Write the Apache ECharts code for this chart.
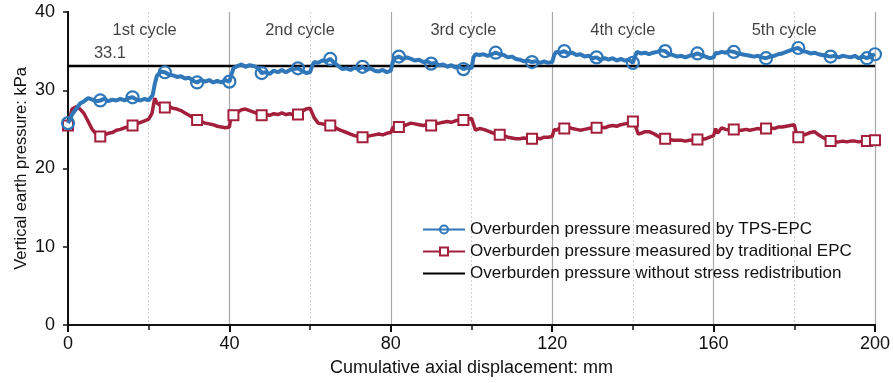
<!DOCTYPE html>
<html><head><meta charset="utf-8">
<script src="https://cdn.jsdelivr.net/npm/echarts@6/dist/echarts.min.js"></script>
<style>html,body{margin:0;padding:0;background:#fff}#c{width:893px;height:383px}</style>
</head><body><div id="c"></div>
<script>
// ---- data ----
const seriesNames = ['Overburden pressure measured by TPS-EPC','Overburden pressure measured by traditional EPC','Overburden pressure without stress redistribution'];
const xTickLabels = [0, 40, 80, 120, 160, 200];
const cycleLabels = ['1st cycle','2nd cycle','3rd cycle','4th cycle','5th cycle'];
const cycleLabelX = [19, 57.5, 98, 137.5, 177.5];
const baselineValue = 33.1;
const tpsX = [0,0.5,1,2,3,4,5,6,7,8,9,10,11,12,13,14,15,16,17,18,19,20,21,21.5,22,23,24,25,26,27,28,29,30,31,32,33,34,35,36,37,38,39,40,40.5,41,42,43,44,45,46,47,48,49,50,51,52,53,54,55,56,57,58,59,60,60.5,61,62,63,64,65,66,67,68,69,70,71,72,73,74,75,76,77,78,79,80,80.5,81,82,83,84,85,86,87,88,89,90,91,92,93,94,95,96,97,98,99,100,100.5,101,102,103,104,105,106,107,108,109,110,111,112,113,114,115,116,117,118,119,120,120.5,121,122,123,124,125,126,127,128,129,130,131,132,133,134,135,136,137,138,139,140,140.5,141,142,143,144,145,146,147,148,149,150,151,152,153,154,155,156,157,158,159,160,160.5,161,162,163,164,165,166,167,168,169,170,171,172,173,174,175,176,177,178,179,180,181,182,183,184,185,186,187,188,189,190,191,192,193,194,195,196,197,198,199,200];
const tpsY = [25.8,26.3,26.9,27.6,28.3,28.6,29.0,28.8,28.6,28.7,28.9,28.6,28.8,28.7,28.9,28.7,29.0,29.1,28.8,28.7,28.9,28.7,29.4,30.8,31.8,32.4,32.3,32.0,31.9,31.7,31.8,31.5,31.6,31.2,31.0,31.3,31.1,31.3,31.0,31.2,31.0,31.3,31.1,32.0,32.8,33.1,33.3,33.0,33.2,33.1,32.9,32.2,32.3,32.1,32.5,32.3,32.6,32.3,32.6,32.7,32.8,32.5,32.2,32.3,33.1,33.6,33.5,33.8,33.7,34.0,33.5,33.1,32.7,32.8,32.6,32.9,32.7,33.0,32.6,32.8,32.5,32.4,32.6,32.3,32.5,33.6,34.1,34.3,34.0,34.2,34.0,33.8,33.9,33.6,33.7,33.4,33.5,33.2,33.3,33.0,33.2,32.9,33.0,32.7,32.9,32.8,34.2,34.6,34.5,34.6,34.4,34.6,34.8,34.6,34.5,34.2,34.3,34.0,33.9,33.7,33.8,33.6,33.7,33.5,33.7,33.5,33.6,34.5,34.9,34.8,35.0,34.7,34.8,34.5,34.6,34.3,34.4,34.1,34.2,33.9,34.1,33.9,34.1,33.8,34.0,33.8,33.9,33.5,34.3,34.9,34.7,34.8,34.6,34.8,34.9,35.1,35.0,34.6,34.5,34.3,34.4,34.2,34.4,34.5,34.7,34.5,34.3,34.1,34.2,34.8,34.7,34.9,34.8,35.0,34.9,34.7,34.6,34.5,34.4,34.3,34.4,34.2,34.1,34.3,34.4,34.6,34.7,34.9,35.1,35.3,35.4,35.0,34.9,34.7,34.8,34.6,34.5,34.4,34.3,34.4,34.2,34.4,34.3,34.2,34.4,34.1,34.3,34.1,34.4,34.6];
const tpsMarkerX = [0,8,16,24,32,40,48,57,65,73,82,90,98,106,115,123,131,140,148,156,165,173,181,189,198,200];
const epcX = [0,0.5,1,2,3,4,5,6,7,8,9,10,11,12,13,14,15,16,17,18,19,20,20.8,21.5,22,23,24,25,26,27,28,29,30,31,32,33,34,35,36,37,38,39,40,40.5,41,42,43,44,45,46,47,48,49,50,51,52,53,54,55,56,57,58,59,60,61,62,63,64,65,66,67,68,69,70,71,72,73,74,75,76,77,78,79,80,80.5,81,82,83,84,85,86,87,88,89,90,91,92,93,94,95,96,97,98,99,100,101,102,103,104,105,106,107,108,109,110,111,112,113,114,115,116,117,118,119,120,120.5,121,122,123,124,125,126,127,128,129,130,131,132,133,134,135,136,137,138,139,140,140.8,141.3,142,143,144,145,146,147,148,149,150,151,152,153,154,155,156,157,158,159,160,160.5,161,162,163,164,165,166,167,168,169,170,171,172,173,174,175,176,177,178,179,180,180.6,181,182,183,184,185,186,187,188,189,190,191,192,193,194,195,196,197,198,199,200];
const epcY = [25.5,26.5,27.6,27.9,27.6,27.0,26.0,25.0,24.4,24.1,24.3,24.5,24.6,24.9,25.0,25.2,25.3,25.5,25.7,25.9,26.1,26.3,27.0,29.0,28.4,28.0,27.8,27.9,27.7,27.6,27.4,27.1,26.8,26.5,26.2,26.0,25.8,25.7,25.6,25.4,25.3,25.2,25.3,27.1,26.8,27.2,27.5,27.6,27.4,27.2,27.0,26.8,26.9,26.8,27.0,26.9,27.1,26.9,27.0,26.8,26.9,27.3,27.6,27.7,26.5,25.8,25.7,25.6,25.5,25.3,25.0,24.8,24.6,24.4,24.2,24.1,24.0,24.1,24.2,24.3,24.4,24.3,24.5,24.6,25.2,25.4,25.3,25.4,25.6,25.8,25.7,25.6,25.5,25.6,25.5,25.7,25.8,25.9,26.0,25.9,26.1,26.2,26.2,26.3,26.4,24.9,25.1,25.0,24.8,24.6,24.4,24.3,24.2,24.0,23.9,23.8,23.8,23.9,23.8,23.8,23.9,23.8,24.0,24.0,24.1,25.0,24.9,25.2,25.1,25.3,25.1,25.0,24.9,25.0,25.1,25.2,25.2,25.3,25.2,25.4,25.5,25.4,25.6,25.7,25.8,26.0,25.2,24.4,24.5,24.7,24.7,24.5,24.2,23.9,23.8,23.7,23.6,23.6,23.6,23.5,23.6,23.6,23.7,23.7,23.8,24.0,24.2,25.1,24.5,25.2,25.0,24.9,25.0,24.9,24.9,25.0,24.9,25.0,25.1,25.0,25.1,25.2,25.1,25.3,25.3,25.4,25.5,25.6,24.3,24.0,24.2,24.4,24.6,24.7,24.3,24.0,23.7,23.5,23.4,23.4,23.5,23.4,23.5,23.5,23.4,23.5,23.5,23.6,23.6];
const epcMarkerX = [0,8,16,24,32,41,48,57,65,73,82,90,98,107,115,123,131,140,148,156,165,173,181,189,198,200];

// ---- chart ----
const BLUE = '#2f77b8', RED = '#a31f3b';
const FONT = 'Liberation Sans';
const pairs = (xs, ys) => xs.map((x, i) => [x, ys[i]]);
const chart = echarts.init(document.getElementById('c'), null, {renderer: 'canvas'});
chart.setOption({
  animation: false,
  textStyle: {fontFamily: FONT},
  grid: {left: 68, right: 15, top: 12, bottom: 58},
  legend: {
    orient: 'vertical', left: 422, top: 221, padding: 0, itemGap: 5, itemWidth: 42, itemHeight: 10,
    textStyle: {fontSize: 17, color: '#111', fontFamily: FONT},
    data: seriesNames
  },
  xAxis: [
    {type: 'value', min: 0, max: 200, interval: 20, position: 'bottom',
     name: 'Cumulative axial displacement: mm', nameLocation: 'middle', nameGap: 34, nameMoveOverlap: false,
     nameTextStyle: {fontSize: 18, color: '#111', fontFamily: FONT},
     axisLine: {lineStyle: {color: '#111', width: 2}},
     axisTick: {length: 5, lineStyle: {color: '#111', width: 1.5}},
     axisLabel: {fontSize: 18, color: '#111', margin: 10, fontFamily: FONT,
       formatter: v => xTickLabels.indexOf(v) >= 0 ? String(v) : ''},
     splitLine: {show: true, lineStyle: {color: '#d0d0d0', type: [2, 2], width: 1}}},
    {type: 'value', min: 0, max: 200, interval: 40, position: 'top',
     axisLine: {lineStyle: {color: '#111', width: 2}},
     axisTick: {inside: true, length: 7, lineStyle: {color: '#111', width: 2}},
     axisLabel: {show: false},
     splitLine: {show: true, lineStyle: {color: '#a8a8a8', width: 1.2}}}
  ],
  yAxis: [
    {type: 'value', min: 0, max: 40, interval: 10,
     name: 'Vertical earth pressure: kPa', nameLocation: 'middle', nameGap: 38, nameMoveOverlap: false,
     nameTextStyle: {fontSize: 16.5, color: '#111', fontFamily: FONT},
     axisLine: {show: true, lineStyle: {color: '#111', width: 2}},
     axisTick: {show: true, length: 5, lineStyle: {color: '#111', width: 1.5}},
     axisLabel: {fontSize: 18, color: '#111', margin: 13, fontFamily: FONT},
     splitLine: {show: false}},
    {type: 'value', min: 0, max: 40, interval: 10, position: 'right',
     axisLine: {show: true, lineStyle: {color: '#111', width: 2}},
     axisTick: {show: false}, axisLabel: {show: false}, splitLine: {show: false}}
  ],
  series: [
    {name: seriesNames[2], type: 'line', symbol: 'circle', symbolSize: 0, z: 3,
     lineStyle: {color: '#000', width: 2.5},
     itemStyle: {color: 'rgba(0,0,0,0)', borderWidth: 0, borderColor: 'rgba(0,0,0,0)'},
     data: [[0, baselineValue], [200, baselineValue]]},
    {name: seriesNames[1], type: 'line', symbol: 'rect', showAllSymbol: true, z: 4,
     symbolSize: v => epcMarkerX.indexOf(v[0]) >= 0 ? 10 : 0,
     lineStyle: {color: RED, width: 3.5}, itemStyle: {color: '#fff', borderColor: RED, borderWidth: 2},
     data: pairs(epcX, epcY)},
    {name: seriesNames[0], type: 'line', symbol: 'circle', showAllSymbol: true, z: 5,
     symbolSize: v => tpsMarkerX.indexOf(v[0]) >= 0 ? 12 : 0,
     lineStyle: {color: BLUE, width: 4}, itemStyle: {color: 'rgba(255,255,255,0)', borderColor: BLUE, borderWidth: 2.2},
     data: pairs(tpsX, tpsY)},
    {name: 'cycles', type: 'scatter', symbolSize: 0, silent: true,
     label: {show: true, position: 'inside', fontSize: 16.5, color: '#111', fontFamily: FONT,
       formatter: p => cycleLabels[p.dataIndex]},
     data: cycleLabelX.map(x => [x, 37.7])},
    {name: 'baselineLabel', type: 'scatter', symbolSize: 0, silent: true,
     label: {show: true, position: 'inside', fontSize: 16.5, color: '#111', fontFamily: FONT,
       formatter: () => String(baselineValue)},
     data: [[10.4, 34.7]]}
  ]
});
</script></body></html>
